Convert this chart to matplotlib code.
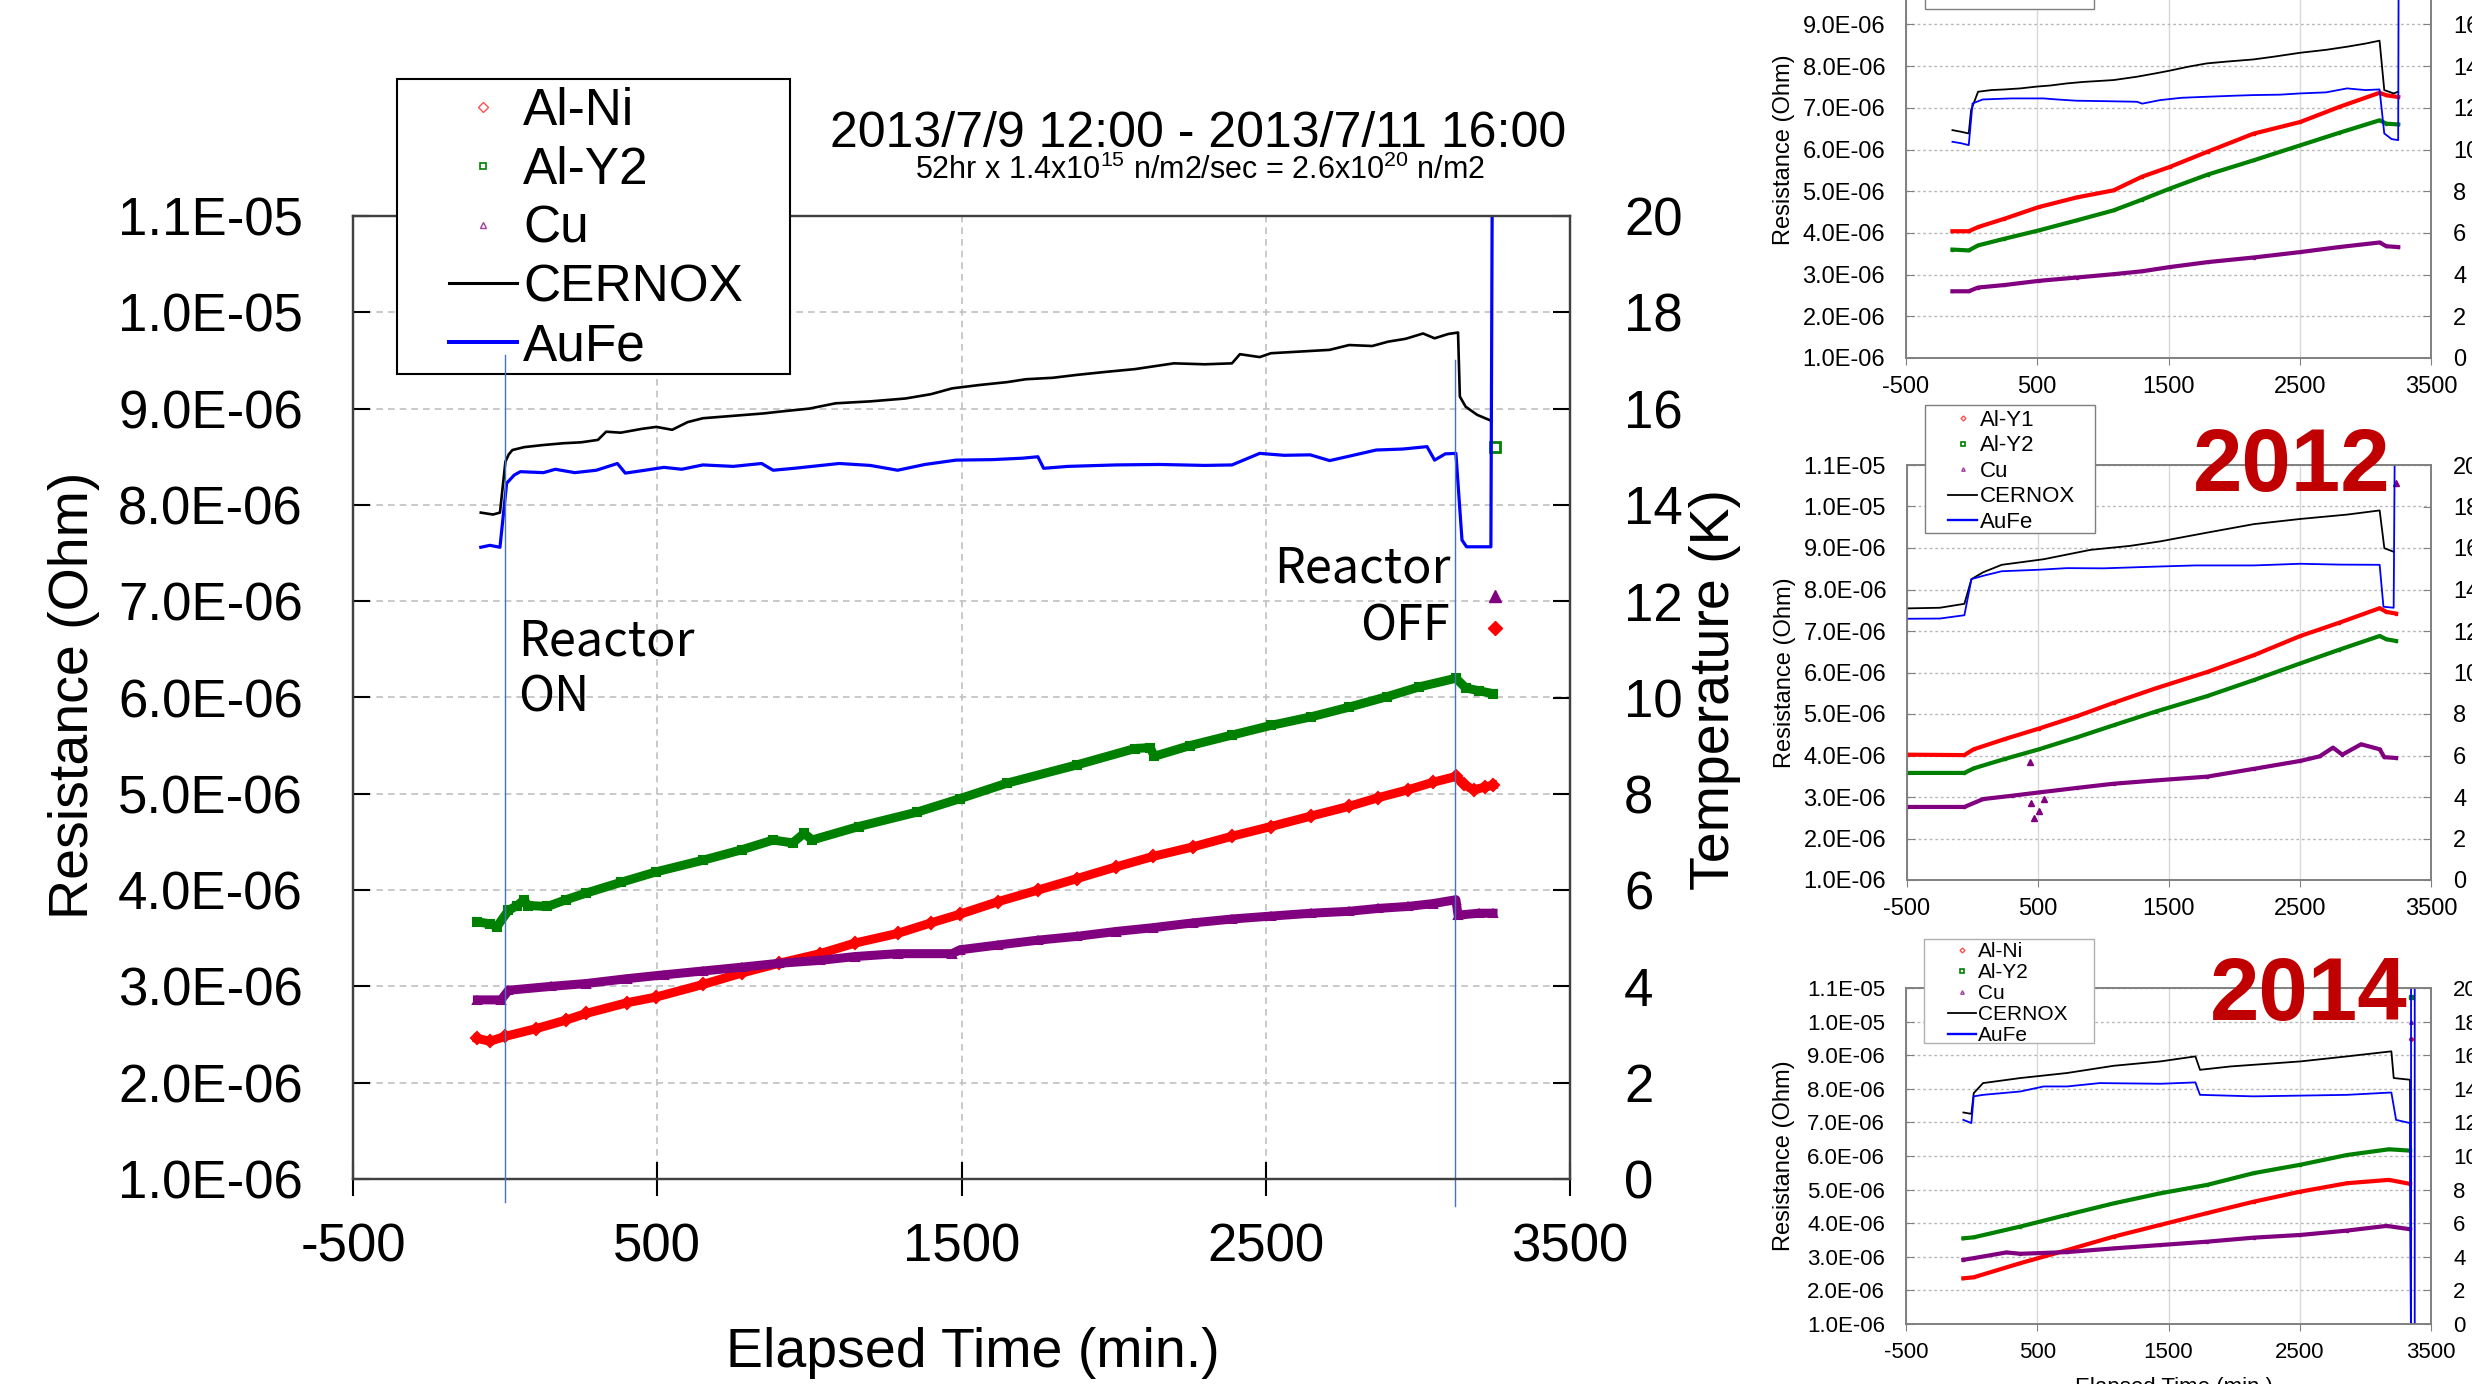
import numpy as np
import matplotlib
matplotlib.use("Agg")
import matplotlib.pyplot as plt
import matplotlib.transforms as mtransforms
from matplotlib.lines import Line2D
from matplotlib.patches import Rectangle
from matplotlib.ticker import FormatStrFormatter

plt.rcParams["font.family"] = ["Liberation Sans", "DejaVu Sans"]
plt.rcParams["mathtext.fontset"] = "custom"
plt.rcParams["mathtext.rm"] = "Liberation Sans"
plt.rcParams["axes.unicode_minus"] = False

W, H = 2472, 1384
RED, GREEN, PURPLE, BLUE = "#ff0000", "#008000", "#800080", "#0000ff"
JP = ["Noto Sans CJK JP", "DejaVu Sans"]

# ---- main chart (2013): time (min), resistance (1e-6 Ohm) / temperature (K)
ALNI = [(-91, 2.46), (-50, 2.43), (-1, 2.48), (100, 2.56), (200, 2.65), (267, 2.72),
        (400, 2.83), (497, 2.89), (650, 3.02), (779, 3.14), (900, 3.24), (1035, 3.34),
        (1150, 3.45), (1290, 3.55), (1400, 3.66), (1495, 3.75), (1620, 3.88), (1751, 4.00),
        (1880, 4.12), (2007, 4.24), (2130, 4.35), (2262, 4.45), (2390, 4.56), (2517, 4.66),
        (2650, 4.77), (2774, 4.87), (2870, 4.96), (2966, 5.04), (3050, 5.12), (3125, 5.18),
        (3150, 5.10), (3183, 5.04), (3220, 5.07), (3247, 5.09)]
ALY2 = [(-91, 3.67), (-50, 3.65), (-27, 3.62), (11, 3.79), (40, 3.84), (62, 3.90),
        (75, 3.84), (139, 3.83), (200, 3.90), (267, 3.97), (380, 4.08), (497, 4.19),
        (650, 4.31), (779, 4.42), (881, 4.52), (945, 4.49), (983, 4.59), (1009, 4.52),
        (1162, 4.66), (1354, 4.81), (1495, 4.95), (1649, 5.11), (1879, 5.30), (2070, 5.47),
        (2120, 5.48), (2134, 5.39), (2250, 5.50), (2389, 5.61), (2517, 5.71), (2650, 5.80),
        (2774, 5.90), (2900, 6.01), (3004, 6.11), (3125, 6.20), (3157, 6.10), (3200, 6.07),
        (3247, 6.04)]
CU = [(-91, 2.86), (-13, 2.86), (11, 2.96), (150, 3.00), (267, 3.03), (400, 3.08),
      (522, 3.12), (650, 3.16), (779, 3.20), (900, 3.24), (1035, 3.27), (1150, 3.31),
      (1290, 3.34), (1469, 3.34), (1495, 3.38), (1620, 3.43), (1751, 3.48), (1880, 3.52),
      (2007, 3.57), (2130, 3.61), (2262, 3.66), (2390, 3.70), (2517, 3.73), (2650, 3.76),
      (2774, 3.78), (2870, 3.81), (2966, 3.83), (3050, 3.86), (3125, 3.90), (3132, 3.74),
      (3200, 3.76), (3247, 3.76)]
CERNOX = [(-80, 13.84), (-40, 13.80), (-17, 13.84), (1, 14.90), (12, 15.05), (24, 15.14),
          (63, 15.20), (120, 15.24), (190, 15.28), (250, 15.30), (305, 15.35), (332, 15.52),
          (380, 15.50), (450, 15.58), (497, 15.62), (549, 15.56), (600, 15.72), (650, 15.80),
          (750, 15.85), (850, 15.90), (907, 15.94), (1000, 16.00), (1086, 16.11), (1200, 16.15),
          (1316, 16.21), (1400, 16.30), (1469, 16.42), (1559, 16.49), (1650, 16.55),
          (1712, 16.61), (1800, 16.64), (1879, 16.70), (1970, 16.76), (2070, 16.82),
          (2198, 16.94), (2300, 16.92), (2389, 16.94), (2415, 17.13), (2480, 17.07),
          (2517, 17.15), (2600, 17.18), (2710, 17.22), (2774, 17.32), (2850, 17.30),
          (2902, 17.39), (2960, 17.45), (3017, 17.56), (3055, 17.46), (3100, 17.55),
          (3132, 17.58), (3138, 16.25), (3157, 16.04), (3195, 15.87), (3240, 15.75)]
AUFE = [(-80, 13.12), (-50, 13.16), (-17, 13.12), (5, 14.45), (30, 14.62), (50, 14.69),
        (126, 14.67), (165, 14.74), (229, 14.67), (300, 14.72), (369, 14.86), (395, 14.66),
        (460, 14.72), (522, 14.78), (580, 14.74), (650, 14.83), (750, 14.80), (843, 14.86),
        (881, 14.72), (950, 14.76), (1098, 14.86), (1200, 14.82), (1290, 14.72),
        (1380, 14.84), (1482, 14.93), (1600, 14.94), (1700, 14.97), (1751, 15.00),
        (1770, 14.76), (1850, 14.80), (2007, 14.83), (2150, 14.84), (2300, 14.82),
        (2389, 14.83), (2480, 15.07), (2560, 15.03), (2646, 15.04), (2710, 14.92),
        (2780, 15.02), (2863, 15.14), (2950, 15.16), (3030, 15.21), (3055, 14.93),
        (3090, 15.06), (3125, 15.07), (3145, 13.27), (3160, 13.13), (3240, 13.13),
        (3247, 25.0)]
LAST_X = 3253
LAST_ALNI, LAST_ALY2, LAST_CU = 6.72, 8.60, 7.05
REACTOR_ON, REACTOR_OFF = 0, 3123
MAIN_LABELS = ["Al-Ni", "Al-Y2", "Cu", "CERNOX", "AuFe"]

# ---- small chart, top (year label cut off)
TOP_RED = [(-146, 4.04), (-22, 4.04), (49, 4.14), (250, 4.34), (512, 4.62), (800, 4.85),
           (1081, 5.02), (1300, 5.35), (1508, 5.58), (1800, 5.95), (2148, 6.38),
           (2504, 6.66), (2800, 7.02), (3108, 7.36), (3160, 7.30), (3250, 7.26)]
TOP_GREEN = [(-146, 3.60), (-22, 3.58), (49, 3.70), (250, 3.86), (512, 4.06), (800, 4.30),
             (1081, 4.54), (1300, 4.80), (1508, 5.06), (1800, 5.40), (2148, 5.74),
             (2504, 6.10), (2800, 6.40), (3108, 6.70), (3160, 6.62), (3250, 6.60)]
TOP_PURPLE = [(-146, 2.60), (-22, 2.60), (49, 2.69), (250, 2.75), (512, 2.85), (800, 2.93),
              (1081, 3.01), (1300, 3.08), (1508, 3.18), (1800, 3.30), (2148, 3.41),
              (2504, 3.54), (2800, 3.66), (3108, 3.77), (3160, 3.68), (3250, 3.66)]
TOP_CERNOX = [(-146, 10.93), (-80, 10.85), (-22, 10.77), (-4, 11.89), (49, 12.77),
              (150, 12.85), (250, 12.88), (370, 12.93), (500, 13.02), (600, 13.07),
              (726, 13.17), (850, 13.24), (1081, 13.33), (1259, 13.49), (1400, 13.65),
              (1508, 13.78), (1650, 13.97), (1792, 14.13), (1950, 14.22), (2148, 14.32),
              (2300, 14.45), (2504, 14.64), (2700, 14.78), (2860, 14.93), (3000, 15.08),
              (3108, 15.22), (3144, 12.85), (3215, 12.69), (3250, 12.77)]
TOP_AUFE = [(-146, 10.37), (-80, 10.30), (-22, 10.21), (7, 12.21), (85, 12.40), (300, 12.45),
            (548, 12.45), (650, 12.40), (797, 12.34), (1000, 12.32), (1259, 12.29),
            (1300, 12.20), (1437, 12.37), (1600, 12.48), (1792, 12.53), (2000, 12.58),
            (2148, 12.61), (2350, 12.63), (2504, 12.69), (2700, 12.74), (2860, 12.93),
            (3000, 12.85), (3108, 12.88), (3144, 10.77), (3200, 10.50), (3250, 10.45),
            (3258, 30.0)]
TOP_LABELS = ["Al-Y1", "Al-Y2", "Cu", "CERNOX", "AuFe"]

# ---- small chart, middle (2012)
MID_RED = [(-500, 4.02), (-62, 4.01), (9, 4.15), (250, 4.40), (508, 4.65), (800, 4.95),
           (1078, 5.27), (1400, 5.62), (1790, 6.01), (2150, 6.42), (2503, 6.88),
           (2800, 7.20), (3108, 7.55), (3160, 7.46), (3233, 7.42)]
MID_GREEN = [(-500, 3.58), (-62, 3.58), (9, 3.69), (250, 3.92), (508, 4.15), (800, 4.44),
             (1078, 4.73), (1400, 5.06), (1790, 5.43), (2150, 5.82), (2503, 6.22),
             (2800, 6.55), (3108, 6.88), (3160, 6.80), (3233, 6.76)]
MID_PURPLE = [(-500, 2.76), (-62, 2.76), (81, 2.95), (300, 3.03), (508, 3.11), (800, 3.22),
              (1078, 3.32), (1400, 3.40), (1790, 3.49), (2150, 3.68), (2503, 3.87),
              (2650, 3.98), (2752, 4.19), (2823, 4.02), (2966, 4.27), (3108, 4.15),
              (3144, 3.96), (3233, 3.94)]
MID_CU_STRAY = [(437, 3.84), (450, 2.85), (472, 2.49), (508, 2.66), (544, 2.95), (3233, 10.57)]
MID_CERNOX = [(-500, 13.09), (-250, 13.12), (-62, 13.31), (-8, 14.50), (81, 14.83),
              (223, 15.19), (544, 15.46), (900, 15.91), (1200, 16.10), (1434, 16.32),
              (1790, 16.74), (2147, 17.15), (2503, 17.40), (2859, 17.61), (3108, 17.81),
              (3144, 15.99), (3215, 15.82)]
MID_AUFE = [(-500, 12.59), (-250, 12.60), (-62, 12.76), (-8, 14.50), (81, 14.66),
            (223, 14.88), (500, 14.95), (722, 15.03), (1000, 15.02), (1434, 15.11),
            (1700, 15.16), (2147, 15.16), (2503, 15.24), (2800, 15.20), (3108, 15.19),
            (3137, 13.17), (3215, 13.12), (3233, 30.0)]
MID_LABELS = ["Al-Y1", "Al-Y2", "Cu", "CERNOX", "AuFe"]

# ---- small chart, bottom (2014)
BOT_RED = [(-63, 2.36), (16, 2.39), (371, 2.81), (727, 3.20), (1082, 3.60), (1438, 3.95),
           (1794, 4.30), (2149, 4.64), (2505, 4.94), (2860, 5.19), (3180, 5.29), (3340, 5.17)]
BOT_GREEN = [(-63, 3.55), (16, 3.58), (371, 3.90), (727, 4.25), (1082, 4.59), (1438, 4.89),
             (1794, 5.14), (2149, 5.49), (2505, 5.74), (2860, 6.03), (3180, 6.20), (3340, 6.16)]
BOT_PURPLE = [(-63, 2.91), (16, 2.96), (265, 3.13), (371, 3.09), (727, 3.14), (1082, 3.25),
              (1438, 3.35), (1794, 3.45), (2149, 3.57), (2505, 3.65), (2860, 3.78),
              (3163, 3.92), (3340, 3.82)]
BOT_CERNOX = [(-63, 12.59), (-2, 12.51), (16, 13.74), (87, 14.34), (371, 14.64), (727, 14.94),
              (1082, 15.37), (1438, 15.63), (1705, 15.93), (1740, 15.13), (1971, 15.33),
              (2505, 15.63), (2860, 15.93), (3198, 16.23), (3216, 14.64), (3340, 14.54),
              (3348, -2.0)]
BOT_AUFE = [(-63, 12.15), (-2, 11.96), (16, 13.55), (87, 13.64), (371, 13.84), (549, 14.14),
            (727, 14.14), (976, 14.34), (1438, 14.30), (1705, 14.38), (1740, 13.64),
            (2149, 13.55), (2860, 13.64), (3198, 13.78), (3234, 12.15), (3340, 11.96),
            (3348, -2.0), (3348, 25.0), (3376, 25.0), (3376, -2.0)]
BOT_STRAY_X = 3350
BOT_STRAY = {"red": 9.48, "green": 10.73, "purple": 9.98}
BOT_LABELS = ["Al-Ni", "Al-Y2", "Cu", "CERNOX", "AuFe"]

XTICKS = [-500, 500, 1500, 2500, 3500]
R_TICKS = np.arange(1, 12) * 1e-6
T_TICKS = np.arange(0, 21, 2)


def px_rect(x0, y0, x1, y1):
    return [x0 / W, 1 - y1 / H, (x1 - x0) / W, (y1 - y0) / H]


def xy(arr):
    d = np.array(arr, dtype=float)
    return d[:, 0], d[:, 1]


def legend_handles(ms, lw_line):
    return [
        Line2D([], [], ls="none", marker="D", ms=ms, mfc="none", mec="#ff5050", mew=1.0),
        Line2D([], [], ls="none", marker="s", ms=ms, mfc="none", mec=GREEN, mew=1.2),
        Line2D([], [], ls="none", marker="^", ms=ms, mfc="none", mec="#a040a0", mew=1.0),
        Line2D([], [], color="black", lw=lw_line),
        Line2D([], [], color=BLUE, lw=lw_line * 1.3),
    ]


def boxed_legend(labels, handles, box, fs, hx, top, ls, ec, lw):
    x0, y0, x1, y1 = box
    fig.add_artist(Rectangle((x0 / W, 1 - y1 / H), (x1 - x0) / W, (y1 - y0) / H,
                             transform=fig.transFigure, fc="white", ec=ec, lw=lw,
                             zorder=4.9))
    fig.legend(handles, labels, loc="upper left", bbox_to_anchor=(hx / W, 1 - top / H),
               frameon=False, fontsize=fs, borderpad=0, borderaxespad=0,
               handlelength=1.32, handletextpad=0.12, labelspacing=ls)


def draw_small(box, fs, red, green, purple, cern, aufe):
    a = fig.add_axes(px_rect(*box))
    b = a.twinx()
    for arr, c in ((red, RED), (green, GREEN), (purple, PURPLE)):
        x, y = xy(arr)
        a.plot(x, y * 1e-6, color=c, lw=3.0, solid_joinstyle="round",
               marker="s", ms=2, mfc="none", mec=c, zorder=3)
    for arr, c in ((cern, "black"), (aufe, BLUE)):
        x, y = xy(arr)
        b.plot(x, y, color=c, lw=1.3)
    a.set_xlim(-500, 3500)
    a.set_ylim(1e-6, 1.1e-5)
    b.set_ylim(0, 20)
    a.set_xticks(XTICKS)
    a.set_yticks(R_TICKS)
    b.set_yticks(T_TICKS)
    a.yaxis.set_major_formatter(FormatStrFormatter("%.1E"))
    a.grid(axis="y", ls=(0, (2, 2)), color="#b8b8b8", lw=1)
    a.grid(axis="x", ls="-", color="#d9d9d9", lw=1)
    for s in list(a.spines.values()) + list(b.spines.values()):
        s.set_color("#808080")
        s.set_linewidth(1.2)
    a.tick_params(axis="y", direction="in", length=6, pad=15, labelsize=fs, color="#808080")
    a.tick_params(axis="x", direction="out", length=5, pad=8, labelsize=fs, color="#808080")
    b.tick_params(axis="y", direction="in", length=6, pad=16, labelsize=fs, color="#808080")
    a.set_ylabel("Resistance (Ohm)", fontsize=17)
    a.yaxis.label.set_va("center")
    a.yaxis.set_label_coords(-0.2324, 0.5)
    return a, b


fig = plt.figure(figsize=(W / 100, H / 100), dpi=100)

# ================= main chart =================
ax = fig.add_axes(px_rect(353, 216, 1570, 1179))
ax2 = ax.twinx()

for arr, c, m in ((ALNI, RED, "D"), (ALY2, GREEN, "s"), (CU, PURPLE, "^")):
    x, y = xy(arr)
    ax.plot(x, y * 1e-6, color=c, lw=6.5, solid_joinstyle="round", marker=m, ms=6,
            mfc="none", mec=c, mew=1.5, zorder=3)
ax.plot([LAST_X], [LAST_ALNI * 1e-6], ls="none", marker="D", ms=7, color=RED, clip_on=False)
ax.plot([LAST_X], [LAST_CU * 1e-6], ls="none", marker="^", ms=8, color=PURPLE, clip_on=False)
ax.plot([LAST_X], [LAST_ALY2 * 1e-6], ls="none", marker="s", ms=7, mfc="none", mec=GREEN,
        mew=2, clip_on=False)

x, y = xy(CERNOX)
ax2.plot(x, y, color="black", lw=1.9)
x, y = xy(AUFE)
ax2.plot(x, y, color=BLUE, lw=2.3)

ax.set_xlim(-500, 3500)
ax.set_ylim(1e-6, 1.1e-5)
ax2.set_ylim(0, 20)
ax.set_xticks(XTICKS)
ax.set_yticks(R_TICKS)
ax2.set_yticks(T_TICKS)
ax.yaxis.set_major_formatter(FormatStrFormatter("%.1E"))
ax.grid(True, ls=(0, (4, 3)), color="#c0c0c0", lw=1.2)
for s in list(ax.spines.values()) + list(ax2.spines.values()):
    s.set_color("#404040")
    s.set_linewidth(1.6)
ax.tick_params(axis="y", direction="in", length=12, width=1.5, pad=36, labelsize=38)
ax.tick_params(axis="x", direction="inout", length=24, width=1.5, pad=19, labelsize=38)
ax2.tick_params(axis="y", direction="in", length=12, width=1.5, pad=39, labelsize=38)

ax.set_ylabel("Resistance (Ohm)", fontsize=40)
ax.yaxis.label.set_va("center")
ax.yaxis.set_label_coords(-0.2293, 0.5026)
ax2.set_ylabel("Temperature (K)", fontsize=40, rotation=90)
ax2.yaxis.label.set_va("center")
ax2.yaxis.set_label_coords(1.1192, 0.5088)
ax.set_xlabel("Elapsed Time (min.)", fontsize=40)
ax.xaxis.label.set_va("center")
ax.xaxis.set_label_coords(0.5095, -0.1807)

# reactor on / off markers
ax2.axvline(REACTOR_OFF, ymin=-0.028, ymax=0.85, color="#4472c4", lw=1.0, clip_on=False)
blend = mtransforms.blended_transform_factory(ax.transData, fig.transFigure)
fig.add_artist(Line2D([REACTOR_ON, REACTOR_ON], [1 - 1202 / H, 1 - 355 / H],
                      transform=blend, color="#4472c4", lw=1.0, zorder=6))
ax2.text(42, 10.88, "Reactor", fontfamily=JP, fontsize=35, ha="left", va="baseline")
ax2.text(42, 9.70, "ON", fontfamily=JP, fontsize=35, ha="left", va="baseline")
ax2.text(3106, 12.38, "Reactor", fontfamily=JP, fontsize=35, ha="right", va="baseline")
ax2.text(3106, 11.19, "OFF", fontfamily=JP, fontsize=35, ha="right", va="baseline")

boxed_legend(MAIN_LABELS, legend_handles(5, 2.2), (397, 79, 790, 374), 37, 449, 87,
             0.19, "black", 1.5)

fig.text(1198 / W, 1 - 147 / H, "2013/7/9 12:00 - 2013/7/11 16:00",
         ha="center", va="baseline", fontsize=36)
fig.text(1200 / W, 1 - 179 / H,
         r"52hr x 1.4x10$^{\mathregular{15}}$ n/m2/sec = 2.6x10$^{\mathregular{20}}$ n/m2",
         ha="center", va="baseline", fontsize=22)

# ================= small charts =================
draw_small((1906, -59, 2431, 358), 17, TOP_RED, TOP_GREEN, TOP_PURPLE, TOP_CERNOX, TOP_AUFE)
boxed_legend(TOP_LABELS, legend_handles(2.5, 1.3), (1925, -119, 2094, 9), 16, 1948, -117,
             0.18, "#7f7f7f", 1.0)

a_mid, b_mid = draw_small((1907, 465, 2431, 880), 17, MID_RED, MID_GREEN, MID_PURPLE,
                          MID_CERNOX, MID_AUFE)
sx, sy = xy(MID_CU_STRAY)
a_mid.plot(sx, sy * 1e-6, ls="none", marker="^", ms=4, color=PURPLE, clip_on=False)
boxed_legend(MID_LABELS, legend_handles(2.5, 1.3), (1925, 405, 2095, 533), 16, 1948, 410,
             0.2, "#7f7f7f", 1.0)
fig.text(2292 / W, 1 - 491 / H, "2012", color="#c00000", fontweight="bold",
         fontsize=64, ha="center", va="baseline")

a_bot, b_bot = draw_small((1906, 988, 2431, 1324), 16, BOT_RED, BOT_GREEN, BOT_PURPLE,
                          BOT_CERNOX, BOT_AUFE)
a_bot.plot([BOT_STRAY_X], [BOT_STRAY["red"] * 1e-6], ls="none", marker="o", ms=2.5, color=RED)
a_bot.plot([BOT_STRAY_X], [BOT_STRAY["green"] * 1e-6], ls="none", marker="s", ms=2.5, color=GREEN)
a_bot.plot([BOT_STRAY_X], [BOT_STRAY["purple"] * 1e-6], ls="none", marker="^", ms=2.5, color=PURPLE)
a_bot.set_xlabel("Elapsed Time (min.)", fontsize=16)
a_bot.xaxis.label.set_va("baseline")
a_bot.xaxis.set_label_coords(0.5105, -0.205)
boxed_legend(BOT_LABELS, legend_handles(2.5, 1.3), (1924, 939, 2094, 1043), 15, 1948, 942,
             0.1, "#b0b0b0", 1.0)
fig.text(2309 / W, 1 - 1020 / H, "2014", color="#c00000", fontweight="bold",
         fontsize=64, ha="center", va="baseline")

fig.savefig("out.png", dpi=100)
